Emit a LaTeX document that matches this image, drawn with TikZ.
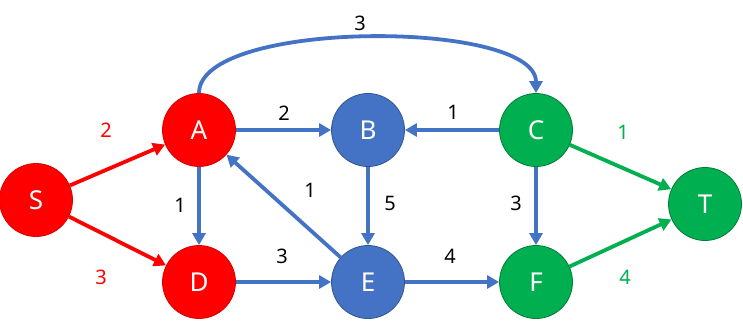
\documentclass[tikz,border=0pt]{standalone}
\usepackage{fontspec}
\setmainfont{Noto Sans}
\usetikzlibrary{arrows.meta}
\definecolor{cred}{HTML}{FF0000}
\definecolor{cblue}{HTML}{4472C4}
\definecolor{cgreen}{HTML}{00B050}
\tikzset{
  vtx/.style={circle, minimum size=73pt, inner sep=0pt, line width=0.8pt, text=white,
    font=\fontsize{26}{26}\selectfont},
  rv/.style={vtx, fill=cred, draw=cred!85!black},
  bv/.style={vtx, fill=cblue, draw=cblue!75!black},
  gv/.style={vtx, fill=cgreen, draw=cgreen!70!black},
  edge/.style={line width=3.8pt, -{Triangle[length=12pt,width=13pt]}},
  lbl/.style={font=\fontsize{20}{20}\selectfont, inner sep=0pt}
}
\begin{document}
\begin{tikzpicture}[x=1pt,y=-1pt]
\useasboundingbox (0,0) rectangle (743,321);
\node[rv] (S) at (36,200) {S};
\node[rv] (A) at (199,130) {A};
\node[bv] (B) at (368,130) {B};
\node[gv] (C) at (536,130) {C};
\node[gv] (T) at (705,204) {T};
\node[rv] (D) at (199,282) {D};
\node[bv] (E) at (368,282) {E};
\node[gv] (F) at (536,282) {F};

\draw[edge, cred] (S) -- (A);
\draw[edge, cred] (S) -- (D);
\draw[edge, cblue] (A) -- (B);
\draw[edge, cblue] (C) -- (B);
\draw[edge, cblue] (A) -- (D);
\draw[edge, cblue] (B) -- (E);
\draw[edge, cblue] (E) -- (A);
\draw[edge, cblue] (C) -- (F);
\draw[edge, cblue] (D) -- (E);
\draw[edge, cblue] (E) -- (F);
\draw[edge, cgreen] (C) -- (T);
\draw[edge, cgreen] (F) -- (T);
\draw[edge, cblue] (A.north) .. controls +(0,-74) and +(0,-74) .. (C.north);

\node[lbl, text=cred] (l1) at (106,130) {2};
\node[lbl, text=cred] (l2) at (101,277) {3};
\node[lbl] (l3) at (180,205) {1};
\node[lbl] (l4) at (284,113) {2};
\node[lbl] (l5) at (453,112) {1};
\node[lbl] (l6) at (310,190) {1};
\node[lbl] (l7) at (390,203) {5};
\node[lbl] (l8) at (516,203) {3};
\node[lbl] (l9) at (282,256) {3};
\node[lbl] (l10) at (450,256) {4};
\node[lbl, text=cgreen] (l11) at (623,132) {1};
\node[lbl, text=cgreen] (l12) at (625,277) {4};
\node[lbl] (l13) at (360,23) {3};
\end{tikzpicture}
\end{document}
